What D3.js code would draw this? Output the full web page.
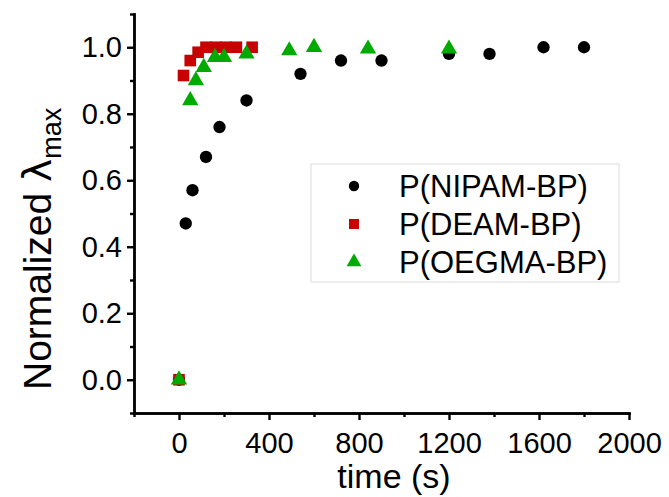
<!DOCTYPE html>
<html>
<head>
<meta charset="utf-8">
<script src="https://cdn.jsdelivr.net/npm/d3@7"></script>
<style>
  html, body { margin: 0; padding: 0; background: #fff; }
  svg { display: block; }
  text { font-family: "Liberation Sans", Arial, sans-serif; fill: #000; }
</style>
</head>
<body>
<svg id="chart" width="669" height="497"></svg>
<script>
// ---- data ----
const nipamTime  = [0, 30, 60, 120, 180, 300, 540, 720, 900, 1200, 1380, 1620, 1800];
const nipamValue = [0, 0.47, 0.57, 0.67, 0.76, 0.84, 0.92, 0.96, 0.96, 0.98, 0.98, 1.0, 1.0];

const deamTime  = [0, 20, 50, 85, 120, 165, 210, 255, 325];
const deamValue = [0, 0.915, 0.96, 0.985, 1.0, 1.0, 1.0, 1.0, 1.0];

const oegmaTime  = [0, 50, 75, 110, 160, 200, 300, 490, 600, 840, 1200];
const oegmaValue = [0, 0.84, 0.90, 0.94, 0.97, 0.97, 0.98, 0.99, 1.0, 0.995, 0.995];

const seriesNames = ["P(NIPAM-BP)", "P(DEAM-BP)", "P(OEGMA-BP)"];
const xMajorTicks = [0, 400, 800, 1200, 1600, 2000];
const xMinorTicks = [-200, 200, 600, 1000, 1400, 1800];
const yMajorTicks = [0.0, 0.2, 0.4, 0.6, 0.8, 1.0];
const yMinorTicks = [-0.1, 0.1, 0.3, 0.5, 0.7, 0.9, 1.1];

// ---- layout ----
const svg = d3.select("#chart");
const x = d3.scaleLinear().domain([-200, 2000]).range([134, 629]);
const y = d3.scaleLinear().domain([-0.1, 1.1]).range([413, 14]);
const axisW = 2.4;

// axes
const gx = svg.append("g").attr("transform", `translate(0,${y(-0.1)})`);
gx.call(d3.axisBottom(x).tickValues(xMinorTicks).tickSize(4).tickSizeOuter(0).tickFormat(""));
const gxM = svg.append("g").attr("transform", `translate(0,${y(-0.1)})`);
gxM.call(d3.axisBottom(x).tickValues(xMajorTicks).tickSize(7).tickSizeOuter(0).tickPadding(12).tickFormat(d3.format("d")));

const gy = svg.append("g").attr("transform", `translate(${x(-200)},0)`);
gy.call(d3.axisLeft(y).tickValues(yMinorTicks).tickSize(4).tickSizeOuter(0).tickFormat(""));
const gyM = svg.append("g").attr("transform", `translate(${x(-200)},0)`);
gyM.call(d3.axisLeft(y).tickValues(yMajorTicks).tickSize(7).tickSizeOuter(0).tickPadding(5).tickFormat(d3.format(".1f")));

svg.selectAll(".domain").attr("stroke", "#000").attr("stroke-width", axisW).attr("stroke-linecap", "square");
svg.selectAll(".tick line").attr("stroke", "#000").attr("stroke-width", axisW);
svg.selectAll(".tick text").style("font-family", "'Liberation Sans', Arial, sans-serif").style("font-size", "29px").attr("fill", "#000");
gxM.selectAll(".tick text").attr("dy", "0.71em");

// axis titles
svg.append("text")
  .attr("x", 394).attr("y", 488)
  .attr("text-anchor", "middle")
  .style("font-size", "34px")
  .text("time (s)");

const yl = svg.append("text")
  .attr("transform", "translate(51,390) rotate(-90)")
  .attr("text-anchor", "start")
  .style("font-size", "39px");
yl.append("tspan").text("Normalized ");
yl.append("tspan").style("font-family", "'DejaVu Sans', sans-serif").text("λ");
yl.append("tspan").attr("dy", 10).style("font-size", "27px").text("max");

// markers
const sym = (type, size) => d3.symbol().type(type).size(size)();
function addSeries(times, vals, type, size, color) {
  svg.append("g").selectAll("path")
    .data(times.map((t, i) => [t, vals[i]]))
    .join("path")
    .attr("d", sym(type, size))
    .attr("transform", d => `translate(${x(d[0])},${y(d[1])})`)
    .attr("fill", color);
}
const colors = ["#000000", "#c80000", "#00aa00"];
const types = [d3.symbolCircle, d3.symbolSquare, d3.symbolTriangle];
const sizes = [120, 135, 115];
addSeries(nipamTime, nipamValue, types[0], sizes[0], colors[0]);
addSeries(deamTime, deamValue, types[1], sizes[1], colors[1]);
addSeries(oegmaTime, oegmaValue, types[2], sizes[2], colors[2]);

// legend
const lg = svg.append("g");
lg.append("rect").attr("x", 311).attr("y", 164).attr("width", 308).attr("height", 118)
  .attr("fill", "#fff").attr("stroke", "#dcdcdc").attr("stroke-width", 1);
const rowY = [186, 224, 262];
seriesNames.forEach((name, i) => {
  lg.append("path").attr("d", sym(types[i], [85, 100, 95][i]))
    .attr("transform", `translate(354,${rowY[i]})`).attr("fill", colors[i]);
  lg.append("text").attr("x", 399).attr("y", rowY[i] + 11)
    .style("font-size", "31px").text(name);
});
</script>
</body>
</html>
